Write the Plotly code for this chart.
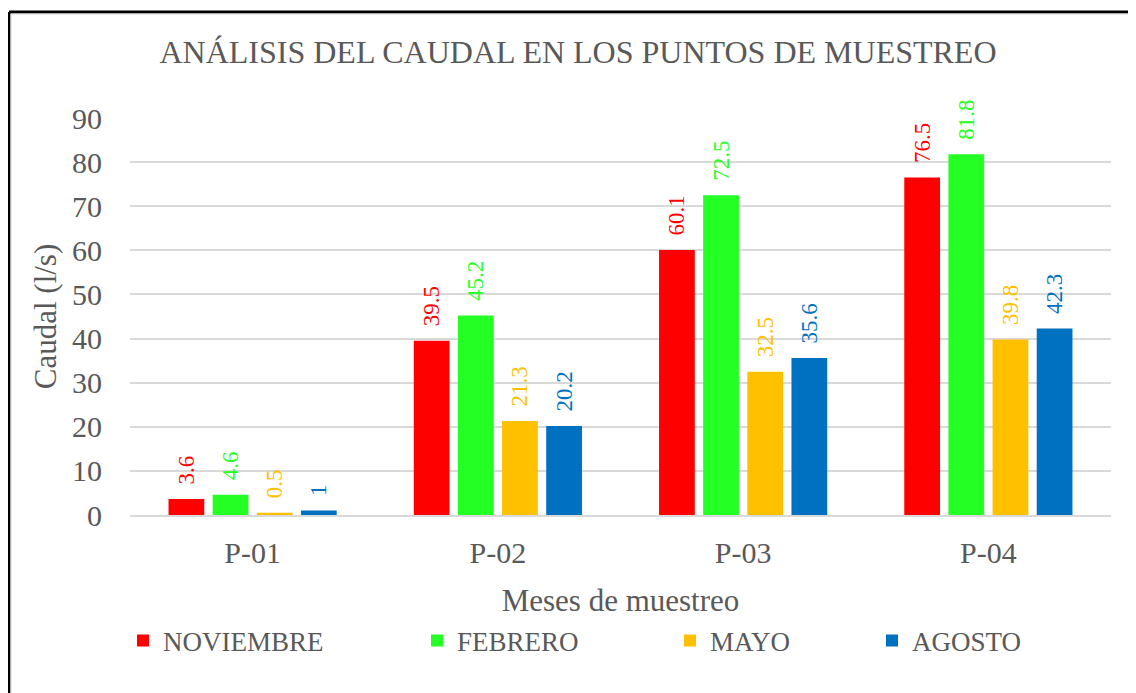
import plotly.graph_objects as go

categories = ["P-01", "P-02", "P-03", "P-04"]
noviembre = [3.6, 39.5, 60.1, 76.5]
febrero = [4.6, 45.2, 72.5, 81.8]
mayo = [0.5, 21.3, 32.5, 39.8]
agosto = [1, 20.2, 35.6, 42.3]
y_ticks = [0, 10, 20, 30, 40, 50, 60, 70, 80, 90]

series = [
    ("NOVIEMBRE", noviembre, "#FF0000"),
    ("FEBRERO", febrero, "#24FF24"),
    ("MAYO", mayo, "#FFC000"),
    ("AGOSTO", agosto, "#0070C0"),
]
# screenshot x of each legend text start
legend_text_x = [163, 457, 710, 912]

OFF = 8  # default body margin of the html page
W, H = 1136, 693
PL, PR, PT, PB = 130, 1111, 118, 515  # plot area in screenshot pixels
L, R, T, B = PL - OFF, W - (PR - OFF), PT - OFF, H - (PB - OFF)
pw, ph = W - L - R, H - T - B


def px(x):
    return (x - OFF - L) / pw


def py(y):
    return (H - B - (y - OFF)) / ph


FONT = "Liberation Serif, Times New Roman, serif"
GRAY = "#595959"
PAD = "\u00a0\u00a0"  # small gap between bar end and rotated label

fig = go.Figure()
for i, (name, vals, col) in enumerate(series):
    lg = "legend" if i == 0 else f"legend{i + 1}"
    fig.add_trace(go.Bar(
        x=categories, y=vals, name=name, marker_color=col,
        marker_line_width=0,
        text=[PAD + str(v) for v in vals], textposition="outside", textangle=-90,
        textfont=dict(family=FONT, size=23, color=col),
        constraintext="none",
        cliponaxis=False, legend=lg,
    ))
    fig.update_layout({lg: dict(
        x=px(legend_text_x[i] - 40), xanchor="left", y=py(641), yanchor="middle",
        font=dict(family=FONT, size=27, color=GRAY),
        bgcolor="rgba(0,0,0,0)", itemwidth=30,
    )})

fig.update_layout(
    width=W, height=H,
    margin=dict(l=L, r=R, t=T, b=B),
    paper_bgcolor="white", plot_bgcolor="white",
    bargap=0.28, bargroupgap=0.19,
    title=dict(text="ANÁLISIS DEL CAUDAL EN LOS PUNTOS DE MUESTREO",
               x=(578 - OFF) / W, xanchor="center", y=1 - (52 - OFF) / H, yanchor="middle",
               font=dict(family=FONT, size=32, color=GRAY)),
    font=dict(family=FONT, color=GRAY),
    showlegend=True,
    xaxis=dict(showgrid=False, showline=True, linecolor="#D9D9D9", linewidth=1.5,
               tickfont=dict(family=FONT, size=30, color=GRAY),
               ticks="", ticklabelstandoff=10,
               title=dict(text="Meses de muestreo", standoff=22,
                          font=dict(family=FONT, size=31, color=GRAY))),
    yaxis=dict(range=[0, 90], tickvals=y_ticks, showgrid=True, gridcolor="#D9D9D9",
               gridwidth=1.5, zeroline=False, showline=False,
               tickfont=dict(family=FONT, size=30, color=GRAY),
               ticklabelstandoff=27,
               title=dict(text="Caudal (l/s)", standoff=6,
                          font=dict(family=FONT, size=31, color=GRAY))),
)

# outer frame (top and left edges visible in the reference)
fig.add_shape(type="line", xref="paper", yref="paper",
              x0=px(9), x1=px(W + 40), y0=py(12), y1=py(12),
              line=dict(color="black", width=3))
fig.add_shape(type="line", xref="paper", yref="paper",
              x0=px(9), x1=px(9), y0=py(12), y1=py(H + 40),
              line=dict(color="black", width=3))
fig.add_shape(type="line", xref="paper", yref="paper",
              x0=px(11), x1=px(W + 40), y0=py(14), y1=py(14),
              line=dict(color="#D9D9D9", width=1))
fig.add_shape(type="line", xref="paper", yref="paper",
              x0=px(11), x1=px(11), y0=py(14), y1=py(H + 40),
              line=dict(color="#D9D9D9", width=1))

fig.write_html("out.html")
